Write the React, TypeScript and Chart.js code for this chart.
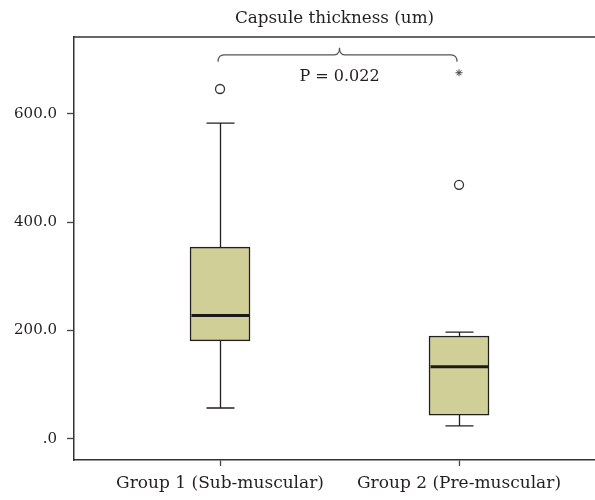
import React, { useEffect, useRef } from "react";
import { Chart, registerables } from "chart.js";

Chart.register(...registerables);

const categories = ["Group 1 (Sub-muscular)", "Group 2 (Pre-muscular)"];
const categoryPositions = [1, 2];
const whiskerLow = [57, 24];
const q1 = [181, 44];
const median = [228, 133];
const q3 = [354, 190];
const whiskerHigh = [583, 197];
const outliers = [[646], [469]];
const extremes = [[], [676]];
const yTicks = [0, 200, 400, 600];
const yTickLabels = [".0", "200.0", "400.0", "600.0"];
const chartTitle = "Capsule thickness (um)";
const pLabel = "P = 0.022";
const bracketValue = 709;
const pLabelValue = 668;
const xRange = [0.389, 2.569];
const yRange = [-39, 742];

const FONT = "DejaVu Serif";
const INK = "#231f20";

const boxExtras = {
  id: "boxExtras",
  afterDatasetsDraw(chart: any) {
    const { ctx, chartArea } = chart;
    const x = chart.scales.x;
    const y = chart.scales.y;
    ctx.save();
    categoryPositions.forEach((pos, i) => {
      const cx = Math.round(x.getPixelForValue(pos)) + 0.5;
      const yHi = y.getPixelForValue(whiskerHigh[i]);
      const yLo = y.getPixelForValue(whiskerLow[i]);
      const yQ1 = y.getPixelForValue(q1[i]);
      const yQ3 = y.getPixelForValue(q3[i]);
      ctx.strokeStyle = INK;
      ctx.lineWidth = 1.3;
      ctx.beginPath();
      ctx.moveTo(cx, yQ3);
      ctx.lineTo(cx, yHi);
      ctx.moveTo(cx, yQ1);
      ctx.lineTo(cx, yLo);
      ctx.moveTo(cx - 14, yHi);
      ctx.lineTo(cx + 14, yHi);
      ctx.moveTo(cx - 14, yLo);
      ctx.lineTo(cx + 14, yLo);
      ctx.stroke();
      const ym = y.getPixelForValue(median[i]);
      ctx.lineWidth = 3;
      ctx.strokeStyle = "#1a1a1a";
      ctx.beginPath();
      ctx.moveTo(cx - 29, ym);
      ctx.lineTo(cx + 29, ym);
      ctx.stroke();
    });
    ctx.strokeStyle = "#333";
    ctx.lineWidth = 1.5;
    ctx.beginPath();
    ctx.moveTo(chartArea.left, chartArea.top);
    ctx.lineTo(chartArea.right, chartArea.top);
    ctx.stroke();
    const L = x.getPixelForValue(categoryPositions[0]) - 2;
    const R = x.getPixelForValue(categoryPositions[1]) - 2;
    const mid = (L + R) / 2 + 2;
    const by = y.getPixelForValue(bracketValue);
    ctx.strokeStyle = "#555";
    ctx.lineWidth = 1.2;
    ctx.beginPath();
    ctx.moveTo(L, by + 7);
    ctx.quadraticCurveTo(L, by, L + 6, by);
    ctx.lineTo(mid - 5, by);
    ctx.quadraticCurveTo(mid, by, mid, by - 7);
    ctx.quadraticCurveTo(mid, by, mid + 5, by);
    ctx.lineTo(R - 6, by);
    ctx.quadraticCurveTo(R, by, R, by + 7);
    ctx.stroke();
    ctx.fillStyle = INK;
    ctx.font = `16px "${FONT}"`;
    ctx.textAlign = "center";
    ctx.textBaseline = "middle";
    ctx.fillText(pLabel, mid, y.getPixelForValue(pLabelValue));
    ctx.restore();
  },
};

export default function App() {
  const ref = useRef<HTMLCanvasElement>(null);
  useEffect(() => {
    document.body.style.margin = "0";
    if (!ref.current) return;
    const chart = new Chart(ref.current, {
      type: "bar",
      data: {
        datasets: [
          {
            type: "bar",
            data: categoryPositions.map((p, i) => ({ x: p, y: [q1[i], q3[i]] })) as any,
            backgroundColor: "#d1cf98",
            borderColor: INK,
            borderWidth: 1.5,
            borderSkipped: false,
            barThickness: 60,
          } as any,
          {
            type: "scatter",
            data: outliers.flatMap((arr, i) => arr.map((v) => ({ x: categoryPositions[i], y: v }))),
            pointStyle: "circle",
            radius: 4.5,
            borderColor: "#333",
            borderWidth: 1.3,
            backgroundColor: "rgba(0,0,0,0)",
          } as any,
          {
            type: "scatter",
            data: extremes.flatMap((arr, i) => arr.map((v) => ({ x: categoryPositions[i], y: v }))),
            pointStyle: "star",
            radius: 3.5,
            borderColor: "#444",
            borderWidth: 1,
            backgroundColor: "rgba(0,0,0,0)",
          } as any,
        ],
      },
      options: {
        responsive: false,
        animation: false,
        layout: { padding: 0, autoPadding: false },
        plugins: {
          legend: { display: false },
          tooltip: { enabled: false },
          title: {
            display: true,
            text: chartTitle,
            fullSize: false,
            color: INK,
            font: { family: FONT, size: 16.8, weight: "normal" },
            padding: { top: 9, bottom: 7.84 },
          },
        },
        scales: {
          x: {
            type: "linear",
            min: xRange[0],
            max: xRange[1],
            offset: false,
            afterBuildTicks: (s: any) => {
              s.ticks = categoryPositions.map((v) => ({ value: v }));
            },
            afterFit: (s: any) => {
              s.height = 40;
              s.paddingLeft = 0;
              s.paddingRight = 0;
            },
            ticks: {
              autoSkip: false,
              maxRotation: 0,
              color: INK,
              padding: 7,
              font: { family: FONT, size: 17 },
              callback: (v: any) => {
                const idx = categoryPositions.indexOf(Number(v));
                return idx >= 0 ? categories[idx] : "";
              },
            },
            grid: { offset: false, drawOnChartArea: false, drawTicks: true, tickLength: 6, tickColor: "#444", tickWidth: 1.3 },
            border: { display: true, color: "#333", width: 1.5 },
          },
          y: {
            type: "linear",
            min: yRange[0],
            max: yRange[1],
            afterBuildTicks: (s: any) => {
              s.ticks = yTicks.map((v) => ({ value: v }));
            },
            afterFit: (s: any) => {
              s.width = 74;
              s.paddingTop = 0;
              s.paddingBottom = 0;
            },
            ticks: {
              color: INK,
              padding: 10,
              font: { family: FONT, size: 15 },
              callback: (v: any) => {
                const idx = yTicks.indexOf(Number(v));
                return idx >= 0 ? yTickLabels[idx] : "";
              },
            },
            grid: { offset: false, drawOnChartArea: false, drawTicks: true, tickLength: 7, tickColor: "#444", tickWidth: 1.3 },
            border: { display: true, color: "#333", width: 1.5 },
          },
        },
      } as any,
      plugins: [boxExtras],
    });
    return () => chart.destroy();
  }, []);
  return <canvas ref={ref} width={595} height={500} style={{ display: "block" }} />;
}
